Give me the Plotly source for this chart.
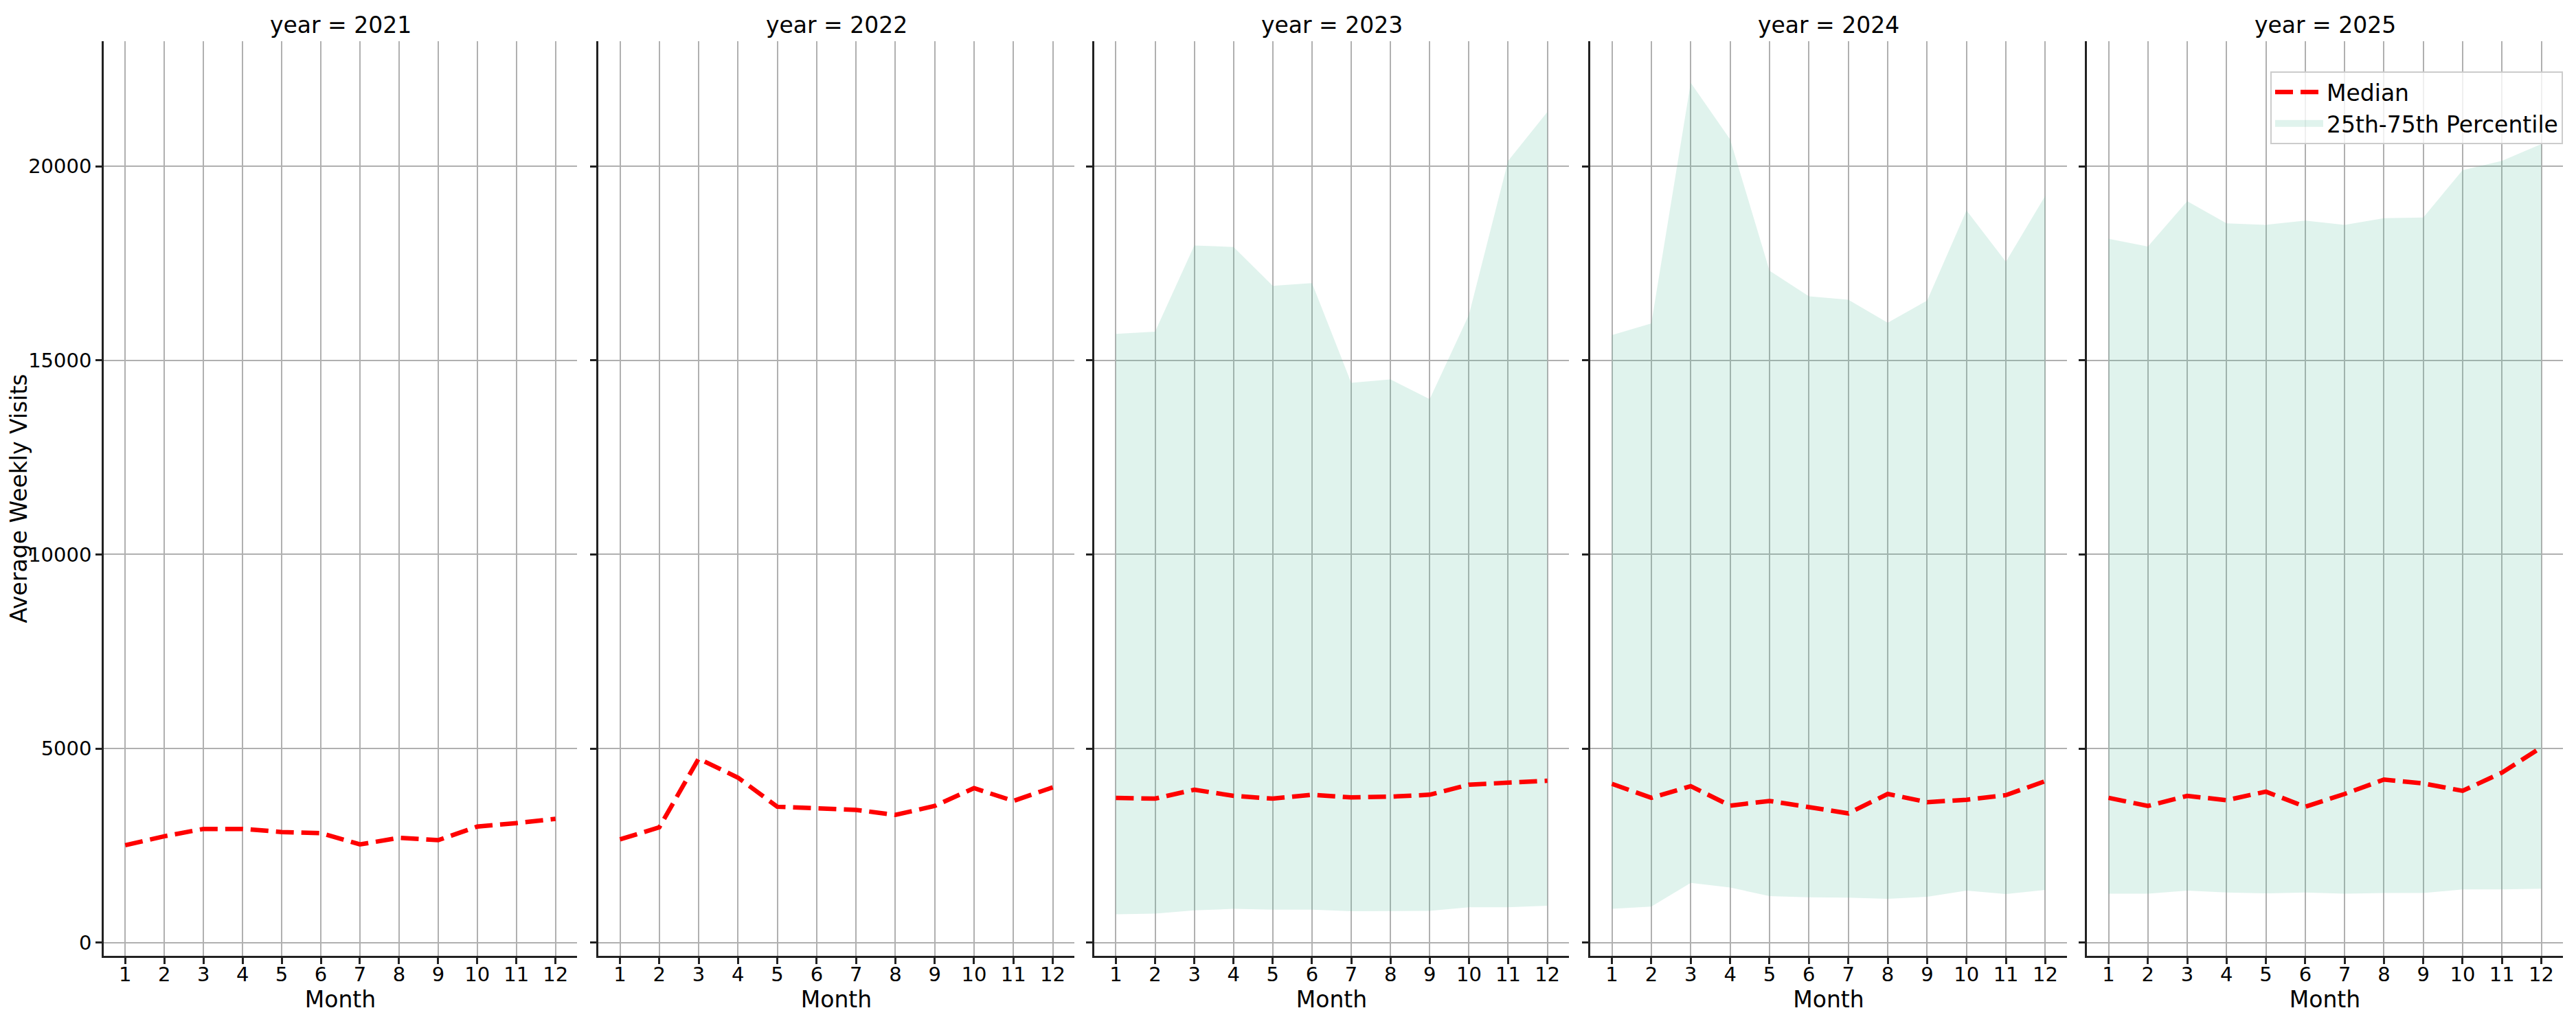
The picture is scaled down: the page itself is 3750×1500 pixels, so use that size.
import plotly.graph_objects as go
from plotly.subplots import make_subplots

months = list(range(1, 13))
years = [2021, 2022, 2023, 2024, 2025]

# median of average weekly visits per month
median_2021 = [2510, 2740, 2930, 2930, 2850, 2820, 2530, 2700, 2640, 2990, 3080, 3190]
median_2022 = [2660, 2970, 4740, 4250, 3500, 3450, 3420, 3290, 3520, 3980, 3650, 4000]
median_2023 = [3730, 3710, 3940, 3780, 3710, 3810, 3740, 3760, 3810, 4070, 4120, 4170]
median_2024 = [4090, 3730, 4030, 3530, 3650, 3500, 3330, 3830, 3620, 3680, 3800, 4160]
median_2025 = [3730, 3520, 3780, 3670, 3890, 3500, 3830, 4200, 4100, 3910, 4380, 5030]

# 25th / 75th percentiles (only shown from 2023)
p25_2023 = [730, 750, 830, 870, 850, 850, 810, 820, 820, 910, 910, 950]
p75_2023 = [15680, 15740, 17960, 17920, 16920, 16990, 14420, 14510, 14000, 16170, 20140, 21400]
p25_2024 = [870, 930, 1540, 1420, 1200, 1170, 1160, 1130, 1180, 1340, 1250, 1360]
p75_2024 = [15650, 15950, 22150, 20690, 17310, 16650, 16560, 15970, 16540, 18860, 17540, 19240]
p25_2025 = [1260, 1260, 1340, 1290, 1270, 1290, 1260, 1280, 1280, 1370, 1370, 1390]
p75_2025 = [18130, 17930, 19100, 18530, 18490, 18600, 18490, 18660, 18680, 19900, 20140, 20570]

medians = [median_2021, median_2022, median_2023, median_2024, median_2025]
p25s = [None, None, p25_2023, p25_2024, p25_2025]
p75s = [None, None, p75_2023, p75_2024, p75_2025]

W, H = 3750, 1500
FONT = "DejaVu Sans"
FILL = "rgba(102,194,165,0.2)"
OFF = 8  # page body margin in the browser
# panel edges in pixels (as seen in the page)
panel_px = [(151, 840), (871, 1564), (1593, 2284), (2315, 3009), (3038, 3731)]
y_dom = [(H - 1392 + OFF) / H, (H - 60 + OFF) / H]

fig = make_subplots(rows=1, cols=5, shared_yaxes=True)

for i, yr in enumerate(years):
    col = i + 1
    last = (i == len(years) - 1)
    if p25s[i] is not None:
        fig.add_trace(go.Scatter(x=months, y=p25s[i], mode="lines", line=dict(width=0),
                                 showlegend=False, hoverinfo="skip"), row=1, col=col)
        fig.add_trace(go.Scatter(x=months, y=p75s[i], mode="lines", line=dict(width=0),
                                 fill="tonexty", fillcolor=FILL,
                                 name="25th-75th Percentile", legendgroup="iqr",
                                 showlegend=False), row=1, col=col)
    fig.add_trace(go.Scatter(x=months, y=medians[i], mode="lines",
                             line=dict(color="#ff0000", width=6.5, dash="26px,11px"),
                             name="Median", legendrank=1, showlegend=last), row=1, col=col)

    x0, x1 = panel_px[i][0] - OFF, panel_px[i][1] - OFF
    fig.update_xaxes(domain=[x0 / W, x1 / W], range=[0.45, 12.55], tickmode="array",
                     tickvals=months, row=1, col=col)
    fig.update_yaxes(domain=y_dom, row=1, col=col)
    fig.add_annotation(text="year = %d" % yr, x=(x0 + x1) / 2 / W, y=(H - 36 + OFF) / H,
                       xref="paper", yref="paper", xanchor="center", yanchor="middle",
                       showarrow=False, font=dict(size=33, color="black", family=FONT))

# legend swatch for the percentile band (a wide, thick line looks like the filled patch)
fig.add_trace(go.Scatter(x=[None], y=[None], mode="lines", line=dict(color=FILL, width=28),
                         name="25th-75th Percentile", legendgroup="iqr", legendrank=2,
                         hoverinfo="skip"), row=1, col=5)

fig.update_xaxes(showline=True, linecolor="#222222", linewidth=2.5, mirror=False,
                 ticks="outside", ticklen=9, tickwidth=2.5, tickcolor="#222222",
                 showgrid=True, gridcolor="#b0b0b0", gridwidth=2.2, zeroline=False,
                 ticklabelstandoff=-10,
                 tickfont=dict(size=29, color="black", family=FONT),
                 title=dict(text="Month", font=dict(size=33, color="black", family=FONT), standoff=4),
                 automargin=False)
fig.update_yaxes(showline=True, linecolor="#222222", linewidth=2.5, mirror=False,
                 ticks="outside", ticklen=9, tickwidth=2.5, tickcolor="#222222",
                 showgrid=True, gridcolor="#b0b0b0", gridwidth=2.2, zeroline=False,
                 range=[-340, 23220], tickvals=[0, 5000, 10000, 15000, 20000], tickformat="d",
                 tickfont=dict(size=29, color="black", family=FONT), automargin=False)
fig.update_yaxes(title=dict(text="Average Weekly Visits", font=dict(size=33, color="black", family=FONT),
                            standoff=26), row=1, col=1)

fig.update_layout(
    width=W, height=H,
    margin=dict(l=0, r=0, t=0, b=0),
    paper_bgcolor="white", plot_bgcolor="white",
    font=dict(family=FONT, color="black"),
    legend=dict(x=(3731 - OFF) / W, xanchor="right", y=(H - 104 + OFF) / H, yanchor="top",
                traceorder="normal",
                bgcolor="rgba(255,255,255,0.8)", bordercolor="#cccccc", borderwidth=2,
                font=dict(size=33, color="black", family=FONT), itemwidth=70,
                tracegroupgap=6),
)

fig.write_html("out.html")
